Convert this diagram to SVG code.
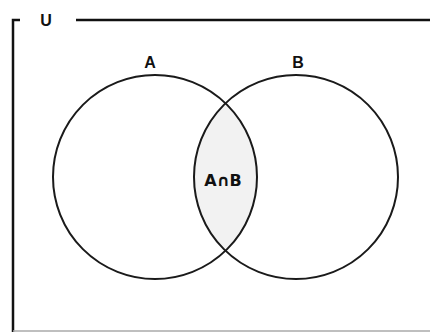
<svg xmlns="http://www.w3.org/2000/svg" width="430" height="332" viewBox="0 0 430 332">
<style>
.frame{stroke:#111;stroke-width:2.5;fill:none}
.circ{stroke:#1a1a1a;stroke-width:2;fill:none}
.lbl{font-family:"Liberation Sans",Arial,sans-serif;font-weight:bold;font-size:16px;fill:#111;text-anchor:middle}
.isect{font-family:"DejaVu Sans","Liberation Sans",sans-serif;font-weight:bold;font-size:16px;fill:#111;text-anchor:middle}
</style>
<defs>
<clipPath id="clipA"><circle cx="155" cy="177" r="102"/></clipPath>
</defs>
<rect width="430" height="332" fill="#fff"/>
<g id="universe">
<path class="frame" d="M20 20 H13 V332"/>
<line class="frame" x1="76" y1="20" x2="430" y2="20"/>
<line x1="13" y1="331" x2="430" y2="331" stroke="#aaa" stroke-width="1.5"/>
<text class="lbl" x="46" y="26">U</text>
</g>
<g id="intersection">
<circle cx="296" cy="177" r="102" fill="#f2f2f2" clip-path="url(#clipA)"/>
<text class="isect" x="223" y="186">A∩B</text>
</g>
<g id="setA">
<circle class="circ" cx="155" cy="177" r="102"/>
<text class="lbl" x="150" y="68">A</text>
</g>
<g id="setB">
<circle class="circ" cx="296" cy="177" r="102"/>
<text class="lbl" x="298" y="68">B</text>
</g>
<g id="connectors"></g>
</svg>
